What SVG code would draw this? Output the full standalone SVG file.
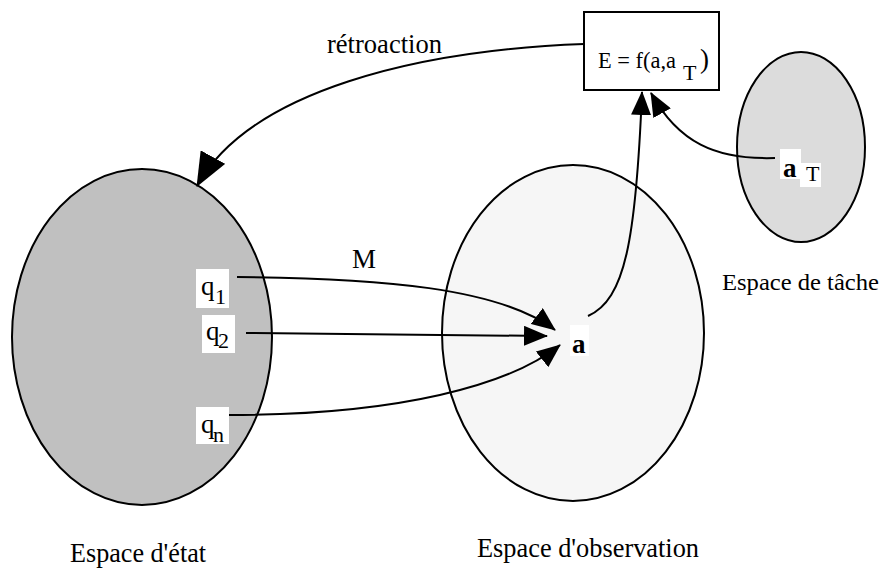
<svg xmlns="http://www.w3.org/2000/svg" width="886" height="576" viewBox="0 0 886 576">
<style>
.t{font-family:"Liberation Serif","Times New Roman","DejaVu Serif",serif;font-size:27px;fill:#000}
.b{font-weight:bold}
.s{font-size:22px}
.m{font-size:23px}
.bg{fill:#fff;stroke:none}
.sh{stroke:#000;stroke-width:2}
.c{fill:none;stroke:#000;stroke-width:2}
</style>
<defs>
<marker id="ah" markerUnits="userSpaceOnUse" markerWidth="24" markerHeight="20" refX="23" refY="10" orient="auto">
<path d="M0,0 L24,10 L0,20 z" fill="#000"/>
</marker>
<marker id="ahL" markerUnits="userSpaceOnUse" markerWidth="34" markerHeight="28" refX="33" refY="14" orient="auto">
<path d="M0,0 L34,14 L0,28 z" fill="#000"/>
</marker>
</defs>

<g id="etat">
<ellipse cx="142" cy="337" rx="130" ry="168" fill="#c0c0c0" class="sh"/>
<rect class="bg" x="196" y="269" width="33" height="39"/>
<text class="t" x="201" y="295">q</text><text class="t s" x="215" y="304">1</text>
<rect class="bg" x="202" y="315" width="33" height="38"/>
<text class="t" x="206" y="340">q</text><text class="t s" x="218" y="348">2</text>
<rect class="bg" x="196" y="407" width="33" height="37"/>
<text class="t" x="201" y="433">q</text><text class="t s" x="213" y="442">n</text>
<text class="t" x="70" y="562" textLength="136" lengthAdjust="spacingAndGlyphs">Espace d'état</text>
</g>

<g id="observation">
<ellipse cx="573" cy="333" rx="131" ry="168" fill="#f6f6f6" class="sh"/>
<rect class="bg" x="570" y="325" width="19" height="31"/>
<text class="t b" x="572" y="353">a</text>
<text class="t" x="477" y="557" textLength="222" lengthAdjust="spacingAndGlyphs">Espace d'observation</text>
</g>

<g id="tache">
<ellipse cx="801" cy="147" rx="64" ry="95" fill="#dcdcdc" class="sh"/>
<rect class="bg" x="780" y="149" width="21" height="30"/>
<rect class="bg" x="800" y="163" width="21" height="24"/>
<text class="t b" x="783" y="177">a</text>
<text class="t s" x="806" y="181">T</text>
<text class="t m" x="722" y="290" textLength="157" lengthAdjust="spacingAndGlyphs">Espace de tâche</text>
</g>

<g id="erreur">
<rect x="584" y="12" width="135" height="78" fill="#fff" class="sh"/>
<text class="t m" x="598" y="68" textLength="78" lengthAdjust="spacingAndGlyphs">E = f(a,a</text>
<text class="t s" x="683" y="80">T</text>
<text class="t" x="700" y="68">)</text>
</g>

<g id="connecteurs">
<path class="c" d="M584 44 C420 50 250 90 197 186" marker-end="url(#ahL)"/>
<text class="t" x="327" y="53" textLength="115" lengthAdjust="spacingAndGlyphs">rétroaction</text>
<path class="c" d="M237 277 C380 278 500 288 555 330" marker-end="url(#ah)"/>
<text class="t" x="352" y="268">M</text>
<path class="c" d="M246 333 L547 336" marker-end="url(#ah)"/>
<path class="c" d="M229 415 C400 415 510 385 560 345" marker-end="url(#ah)"/>
<path class="c" d="M588 316 C625 300 636 240 642 92" marker-end="url(#ah)"/>
<path class="c" d="M775 158 C715 160 678 142 651 93" marker-end="url(#ah)"/>
</g>
</svg>
